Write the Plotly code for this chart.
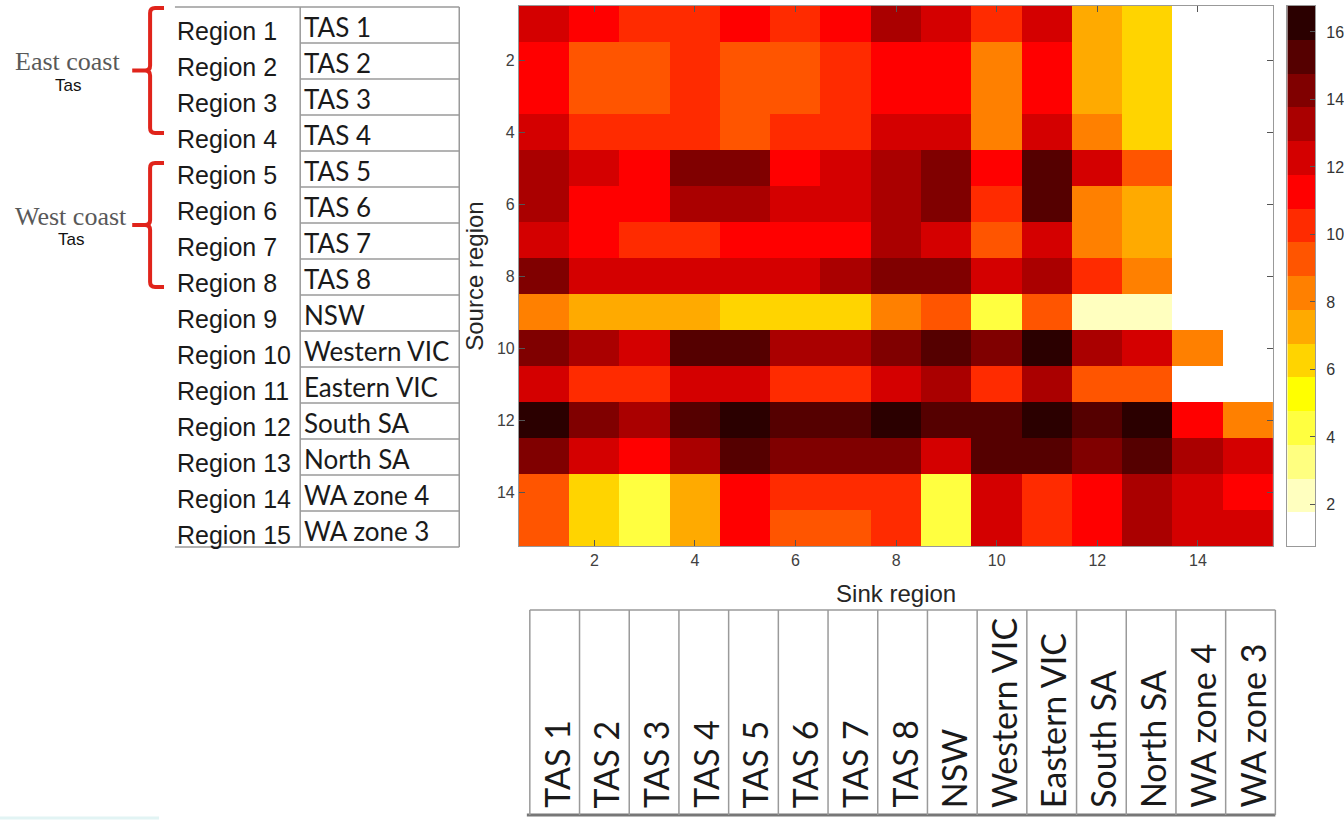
import plotly.graph_objects as go

W, H = 1344, 821

# ---------------- data ----------------
source_regions = [1, 2, 3, 4, 5, 6, 7, 8, 9, 10, 11, 12, 13, 14, 15]
sink_regions = [1, 2, 3, 4, 5, 6, 7, 8, 9, 10, 11, 12, 13, 14, 15]
region_names = ["Region 1", "Region 2", "Region 3", "Region 4", "Region 5",
                "Region 6", "Region 7", "Region 8", "Region 9", "Region 10",
                "Region 11", "Region 12", "Region 13", "Region 14", "Region 15"]
area_names = ["TAS 1", "TAS 2", "TAS 3", "TAS 4", "TAS 5", "TAS 6", "TAS 7",
              "TAS 8", "NSW", "Western VIC", "Eastern VIC", "South SA",
              "North SA", "WA zone 4", "WA zone 3"]
# rows = source region 1..15, columns = sink region 1..15
z = [
    [12, 11, 10, 10, 11, 10, 11, 13, 12, 10, 12, 7, 6, 1, 1],
    [11, 9, 9, 10, 9, 9, 10, 11, 11, 8, 11, 7, 6, 1, 1],
    [11, 9, 9, 10, 9, 9, 10, 11, 11, 8, 11, 7, 6, 1, 1],
    [12, 10, 10, 10, 9, 10, 10, 12, 12, 8, 12, 8, 6, 1, 1],
    [13, 12, 11, 14, 14, 11, 12, 13, 14, 11, 15, 12, 9, 1, 1],
    [13, 11, 11, 13, 13, 12, 12, 13, 14, 10, 15, 8, 7, 1, 1],
    [12, 11, 10, 10, 11, 11, 11, 13, 12, 9, 12, 8, 7, 1, 1],
    [14, 12, 12, 12, 12, 12, 13, 14, 14, 12, 13, 10, 8, 1, 1],
    [8, 7, 7, 7, 6, 6, 6, 8, 9, 4, 9, 2, 2, 1, 1],
    [14, 13, 12, 15, 15, 13, 13, 14, 15, 14, 16, 13, 12, 8, 1],
    [12, 10, 10, 12, 12, 10, 10, 12, 13, 10, 13, 9, 9, 1, 1],
    [16, 14, 13, 15, 16, 15, 15, 16, 15, 15, 16, 15, 16, 11, 8],
    [14, 12, 11, 13, 15, 14, 14, 14, 12, 15, 15, 14, 15, 13, 12],
    [9, 6, 4, 7, 11, 10, 10, 10, 4, 12, 10, 11, 13, 12, 11],
    [9, 6, 4, 7, 11, 9, 9, 10, 4, 12, 10, 11, 13, 12, 12],
]
axis_ticks = [2, 4, 6, 8, 10, 12, 14]
cbar_levels = [1, 2, 3, 4, 5, 6, 7, 8, 9, 10, 11, 12, 13, 14, 15, 16]
cbar_ticks = [2, 4, 6, 8, 10, 12, 14, 16]
level_colors = ["#FFFFFF", "#FFFFBF", "#FFFF80", "#FFFF40", "#FFFF00", "#FFD400",
                "#FFAA00", "#FF8000", "#FF5500", "#FF2B00", "#FF0000", "#D40000",
                "#AA0000", "#800000", "#550000", "#2B0000"]
group_labels = ["East coast", "West coast"]
group_sub = ["Tas", "Tas"]

ZMIN, ZMAX = 0.77, 16.77


def px(x):
    return x / W


def py(y):
    return 1 - y / H


n = len(level_colors)
colorscale = []
for i, c in enumerate(level_colors):
    colorscale.append([i / n, c])
    colorscale.append([(i + 1) / n, c])

# heatmap / colour-bar position in pixels
HX0, HX1, HY0, HY1 = 522, 1281, 6, 546
CX0, CX1 = 1295, 1323

fig = go.Figure()
fig.add_trace(go.Heatmap(
    z=z, x=sink_regions, y=source_regions,
    colorscale=colorscale, zmin=ZMIN, zmax=ZMAX, showscale=False,
    xaxis="x", yaxis="y",
))
# colour bar drawn as its own single-column heatmap on a second axis pair
fig.add_trace(go.Heatmap(
    z=[[v] for v in cbar_levels], x=[0], y0=ZMIN + 0.5, dy=1,
    colorscale=colorscale, zmin=ZMIN, zmax=ZMAX, showscale=False,
    xaxis="x2", yaxis="y2", hoverinfo="skip",
))

tick_font = dict(family="Liberation Sans", size=16, color="#404040")
title_font = dict(family="Liberation Sans", size=24, color="#262626")
axis_common = dict(
    showgrid=False, zeroline=False, ticks="inside", ticklen=6,
    tickcolor="#555555", showline=True, linecolor="#999999", linewidth=1,
    mirror="allticks", tickfont=tick_font,
)
fig.update_layout(
    xaxis=dict(domain=[px(HX0), px(HX1)], range=[0.5, 15.5], tickvals=axis_ticks,
               title=dict(text="Sink region", standoff=16, font=title_font),
               anchor="y", **axis_common),
    yaxis=dict(domain=[py(HY1), py(HY0)], range=[15.5, 0.5], tickvals=axis_ticks,
               title=dict(text="Source region", standoff=6, font=title_font),
               anchor="x", **axis_common),
    xaxis2=dict(domain=[px(CX0), px(CX1)], range=[-0.5, 0.5], showticklabels=False,
                ticks="", showgrid=False, zeroline=False, showline=True,
                linecolor="#999999", linewidth=1, mirror=True, anchor="y2"),
    yaxis2=dict(domain=[py(HY1), py(HY0)], range=[ZMIN, ZMAX], tickvals=cbar_ticks,
                side="right", ticks="inside", ticklen=5, tickcolor="#555555",
                tickfont=dict(family="Liberation Sans", size=16, color="#333333"),
                ticklabelstandoff=7,
                showgrid=False, zeroline=False, showline=True,
                linecolor="#999999", linewidth=1, mirror=True, anchor="x2"),
)

shapes = []
annotations = []
line_col = "#9a9a9a"


def hline(x0, x1, y, color=line_col, width=1.5):
    shapes.append(dict(type="line", xref="paper", yref="paper",
                       x0=px(x0), x1=px(x1), y0=py(y), y1=py(y),
                       line=dict(color=color, width=width)))


def vline(x, y0, y1, color=line_col, width=1.5):
    shapes.append(dict(type="line", xref="paper", yref="paper",
                       x0=px(x), x1=px(x), y0=py(y0), y1=py(y1),
                       line=dict(color=color, width=width)))


# ---------------- left table ----------------
TX0, TXM, TX1 = 176, 302, 462
TY0, ROWH = 7, 36
nrows = len(area_names)
TY1 = TY0 + ROWH * nrows
hline(TX0, TX1, TY0)
hline(TX0, TX1, TY1)
vline(TXM, TY0, TY1)
vline(TX1, TY0, TY1)
for i in range(1, nrows):
    hline(TXM, TX1, TY0 + ROWH * i)
for i, (rn, an) in enumerate(zip(region_names, area_names)):
    yc = TY0 + ROWH * (i + 0.5)
    annotations.append(dict(
        text=rn, xref="paper", yref="paper", x=px(TX0), y=py(yc + 6),
        xanchor="left", yanchor="middle", showarrow=False,
        font=dict(family="Liberation Sans", size=25, color="#1a1a1a")))
    annotations.append(dict(
        text=an, xref="paper", yref="paper", x=px(TXM + 2), y=py(yc + 2),
        xanchor="left", yanchor="middle", showarrow=False,
        font=dict(family="Lato", size=26, color="#1a1a1a")))

# ---------------- bottom table ----------------
BX0, COLW = 533, 50
BY0, BY1 = 610, 815
ncols = len(area_names)
hline(BX0, BX0 + COLW * ncols, BY0)
hline(BX0 - 3, BX0 + COLW * ncols, BY1, color="#777777", width=3)
for k in range(ncols + 1):
    vline(BX0 + COLW * k, BY0, BY1)
for k, an in enumerate(area_names):
    xc = BX0 + COLW * (k + 0.5)
    annotations.append(dict(
        text=an, xref="paper", yref="paper", x=px(xc + 1), y=py(810),
        xanchor="center", yanchor="bottom", textangle=-90, showarrow=False,
        font=dict(family="Lato", size=34, color="#1a1a1a")))

# ---------------- braces + group labels ----------------
brace_col = "#E0241B"
brace_spans = [(8, 133), (163, 287)]
label_x = [68, 71]
for label, sub, (ytop, ybot), lx in zip(group_labels, group_sub, brace_spans, label_x):
    ymid = (ytop + ybot) / 2
    xv, xr, xl = 151, 165, 133
    pts = [
        ("M", xr, ytop), ("L", xv + 5, ytop), ("Q", xv, ytop, xv, ytop + 5),
        ("L", xv, ymid - 5), ("Q", xv, ymid, xv - 5, ymid), ("L", xl, ymid),
        ("M", xv - 5, ymid), ("Q", xv, ymid, xv, ymid + 5),
        ("L", xv, ybot - 5), ("Q", xv, ybot, xv + 5, ybot), ("L", xr, ybot),
    ]
    path = ""
    for p in pts:
        if p[0] == "Q":
            path += f"Q {px(p[1])},{py(p[2])} {px(p[3])},{py(p[4])} "
        else:
            path += f"{p[0]} {px(p[1])},{py(p[2])} "
    shapes.append(dict(type="path", xref="paper", yref="paper", path=path.strip(),
                       line=dict(color=brace_col, width=4)))
    annotations.append(dict(
        text=label, xref="paper", yref="paper", x=px(lx), y=py(ymid - 9),
        xanchor="center", yanchor="middle", showarrow=False,
        font=dict(family="Liberation Serif", size=26, color="#595959")))
    annotations.append(dict(
        text=sub, xref="paper", yref="paper", x=px(lx), y=py(ymid + 15),
        xanchor="center", yanchor="middle", showarrow=False,
        font=dict(family="Liberation Sans", size=17, color="#111111")))

# faint decorative swoosh bottom-left
shapes.append(dict(type="line", xref="paper", yref="paper",
                   x0=px(0), x1=px(160), y0=py(818), y1=py(818),
                   line=dict(color="#e2f4f4", width=3)))

fig.update_layout(
    width=W, height=H,
    margin=dict(l=0, r=0, t=0, b=0),
    paper_bgcolor="white", plot_bgcolor="white",
    shapes=shapes, annotations=annotations,
    showlegend=False,
)

fig.write_html("out.html")
